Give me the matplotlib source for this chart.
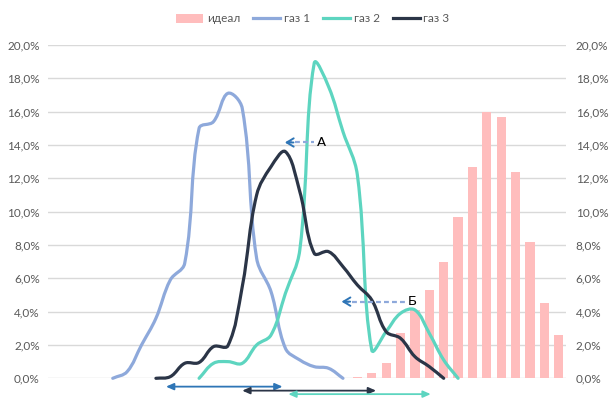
import numpy as np
import matplotlib
matplotlib.use("Agg")
import matplotlib.pyplot as plt
from matplotlib.path import Path
from matplotlib.patches import PathPatch, Patch
from matplotlib.lines import Line2D
from matplotlib.ticker import FuncFormatter

plt.rcParams['font.family'] = ['Lato', 'DejaVu Sans']

# ---------------- data ----------------
categories = list(range(1, 37))
N = None
ideal = [N] * 21 + [0.05, 0.3, 0.9, 2.7, 4.1, 5.3, 7.0, 9.7, 12.7, 16.0, 15.7, 12.4, 8.2, 4.5, 2.6]
gas1 = [N] * 4 + [0, 0.4, 2.0, 3.6, 5.9, 6.9, 15.0, 15.4, 17.1, 16.2, 7.2, 5.2, 1.8, 1.1, 0.7, 0.6, 0] + [N] * 15
gas2 = [N] * 10 + [0, 0.9, 1.0, 0.9, 2.0, 2.6, 5.1, 7.7, 18.9, 17.5, 14.8, 12.2, 1.7, 2.8, 3.9, 4.1, 2.7, 1.1, 0] + [N] * 7
gas3 = [N] * 7 + [0, 0.1, 0.9, 0.95, 1.9, 1.95, 5.5, 11.0, 12.7, 13.6, 11.2, 7.5, 7.6, 6.7, 5.6, 4.7, 2.8, 2.4, 1.3, 0.7, 0] + [N] * 8
series_names = ['идеал', 'газ 1', 'газ 2', 'газ 3']
y_ticks = [0, 2, 4, 6, 8, 10, 12, 14, 16, 18, 20]

# annotations (category positions, values in %)
arrow_A = dict(head=15.96, tail=18.0, y=14.15, label='А')
arrow_B = dict(head=19.9, tail=24.3, y=4.6, label='Б')
ranges = [(7.7, 15.8, -0.5, '#2E75B6'), (13.0, 22.3, -0.74, '#2B3547'), (16.2, 26.1, -0.95, '#5DD5C0')]

c_ideal = '#FFBDBD'
c_g1 = '#8EA9DB'
c_g2 = '#5DD5C0'
c_g3 = '#2B3547'
tick_color = '#595959'

# ---------------- figure ----------------
fig = plt.figure(figsize=(6.16, 3.98), dpi=100)
ax = fig.add_axes([48 / 616, 1 - 378.3 / 398, (566 - 48) / 616, (378.3 - 45) / 398])

x = np.arange(len(categories))
ideal_vals = np.array([np.nan if v is None else v for v in ideal], dtype=float)
ax.bar(x, np.nan_to_num(ideal_vals), width=0.64, color=c_ideal, zorder=2)

SX, SY = 14.4, 16.67  # pixel per data unit, used only to weight the smoothing tangents


def smooth_path(xs, ys, f=0.38):
    P = np.column_stack([xs, ys]).astype(float)
    n = len(P)

    def dist(a, b):
        return np.hypot((a[0] - b[0]) * SX, (a[1] - b[1]) * SY)

    cin = [None] * n
    cout = [None] * n
    for k in range(n):
        prev = P[k - 1] if k > 0 else P[k]
        nxt = P[k + 1] if k < n - 1 else P[k]
        T = nxt - prev
        d0 = dist(prev, P[k])
        d1 = dist(P[k], nxt)
        s = d0 + d1 if d0 + d1 > 0 else 1
        cout[k] = P[k] + T * f * d1 / s
        cin[k] = P[k] - T * f * d0 / s
    verts = [tuple(P[0])]
    codes = [Path.MOVETO]
    for k in range(n - 1):
        verts += [tuple(cout[k]), tuple(cin[k + 1]), tuple(P[k + 1])]
        codes += [Path.CURVE4] * 3
    return Path(verts, codes)


for vals, col in [(gas1, c_g1), (gas2, c_g2), (gas3, c_g3)]:
    xs = [i for i, v in enumerate(vals) if v is not None]
    ys = [v for v in vals if v is not None]
    pp = PathPatch(smooth_path(xs, ys), fill=False, edgecolor=col, lw=2.3,
                   capstyle='round', joinstyle='round', zorder=4, clip_on=False)
    ax.add_patch(pp)

ax.set_xlim(-0.5, len(categories) - 0.5)
ax.set_ylim(0, 20)
ax.set_xticks([])
fmt = FuncFormatter(lambda v, p: f"{v:.1f}".replace('.', ',') + '%')
ax.set_yticks(y_ticks)
ax.yaxis.set_major_formatter(fmt)
ax.tick_params(axis='y', length=0, pad=6, labelsize=8.5, labelcolor=tick_color)
ax.grid(axis='y', color='#D9D9D9', lw=1.0, zorder=0)
ax.set_axisbelow(True)
for s in ax.spines.values():
    s.set_visible(False)

ax2 = ax.twinx()
ax2.set_ylim(0, 20)
ax2.set_yticks(y_ticks)
ax2.yaxis.set_major_formatter(fmt)
ax2.tick_params(axis='y', length=0, pad=7, labelsize=8.5, labelcolor=tick_color)
for s in ax2.spines.values():
    s.set_visible(False)

# dashed arrows A and Б
for a in (arrow_A, arrow_B):
    ax.plot([a['head'] + 0.15, a['tail']], [a['y'], a['y']], ls=(0, (2.2, 1.4)), color='#8EA9DB',
            lw=1.6, zorder=5)
    ax.annotate('', xy=(a['head'], a['y']), xytext=(a['head'] + 0.6, a['y']),
                arrowprops=dict(arrowstyle='->,head_length=0.5,head_width=0.3', color='#2E75B6', lw=1.4,
                                shrinkA=0, shrinkB=0), zorder=6)
    ax.text(a['tail'] + 0.2, a['y'], a['label'], ha='left', va='center', fontsize=9.5,
            color='black', family=['DejaVu Sans'], zorder=6)

# range arrows below the axis
for x0, x1, yy, col in ranges:
    ax.annotate('', xy=(x0, yy), xytext=(x1, yy), annotation_clip=False,
                arrowprops=dict(arrowstyle='<|-|>,head_length=0.45,head_width=0.2', color=col, lw=1.3,
                                shrinkA=0, shrinkB=0))

handles = [Patch(facecolor=c_ideal, edgecolor='none'),
           Line2D([], [], color=c_g1, lw=2.3),
           Line2D([], [], color=c_g2, lw=2.3),
           Line2D([], [], color=c_g3, lw=2.3)]
fig.legend(handles, series_names, loc='center', bbox_to_anchor=(0.508, 0.953), ncol=4, frameon=False,
           fontsize=8.5, labelcolor=tick_color, handlelength=2.3, handletextpad=0.3, columnspacing=1.1,
           handleheight=0.8)

fig.savefig('out.png', dpi=100)
